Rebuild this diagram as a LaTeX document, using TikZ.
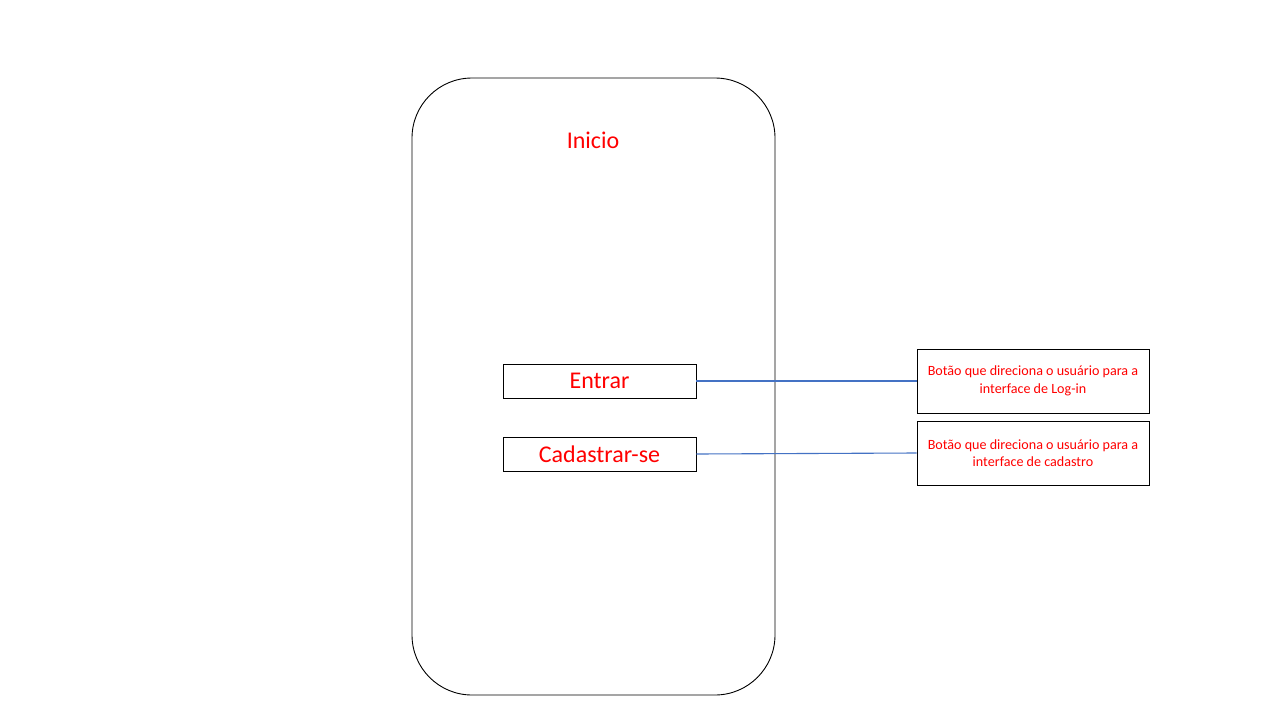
\documentclass[tikz,border=0pt]{standalone}
\usepackage{fontspec}
\setmainfont{Carlito}
\begin{document}
\begin{tikzpicture}[x=1pt,y=-1pt,
  screen/.style={draw=black,line width=0.9pt,rounded corners=60pt},
  btn/.style={draw=black,line width=0.9pt,minimum width=193pt,minimum height=34pt,inner sep=0pt,text=red,font=\fontsize{24}{28}\selectfont},
  note/.style={draw=black,line width=0.9pt,minimum width=232pt,minimum height=64pt,inner sep=0pt,text=red,align=center,font=\fontsize{14.1}{17.5}\selectfont},
  link/.style={draw=linkblue,line width=1.1pt}]
\definecolor{linkblue}{HTML}{4472C4}
\useasboundingbox[fill=white] (0,0) rectangle (1280,720);
\draw[screen] (412,78) rectangle (775,695);
\node[text=red,font=\fontsize{24}{28}\selectfont] (title) at (593,140) {Inicio};
\node[btn] (entrar) at (599.5,381) {Entrar};
\node[btn] (cad) at (599.5,454) {Cadastrar-se};
\node[note] (n1) at (1033,381) {Botão que direciona o usuário para a\\interface de Log-in};
\node[note] (n2) at (1033,453) {Botão que direciona o usuário para a\\interface de cadastro};
\draw[link] (entrar.east) -- (n1.west);
\draw[link] (cad.east) -- (n2.west);
\end{tikzpicture}
\end{document}
